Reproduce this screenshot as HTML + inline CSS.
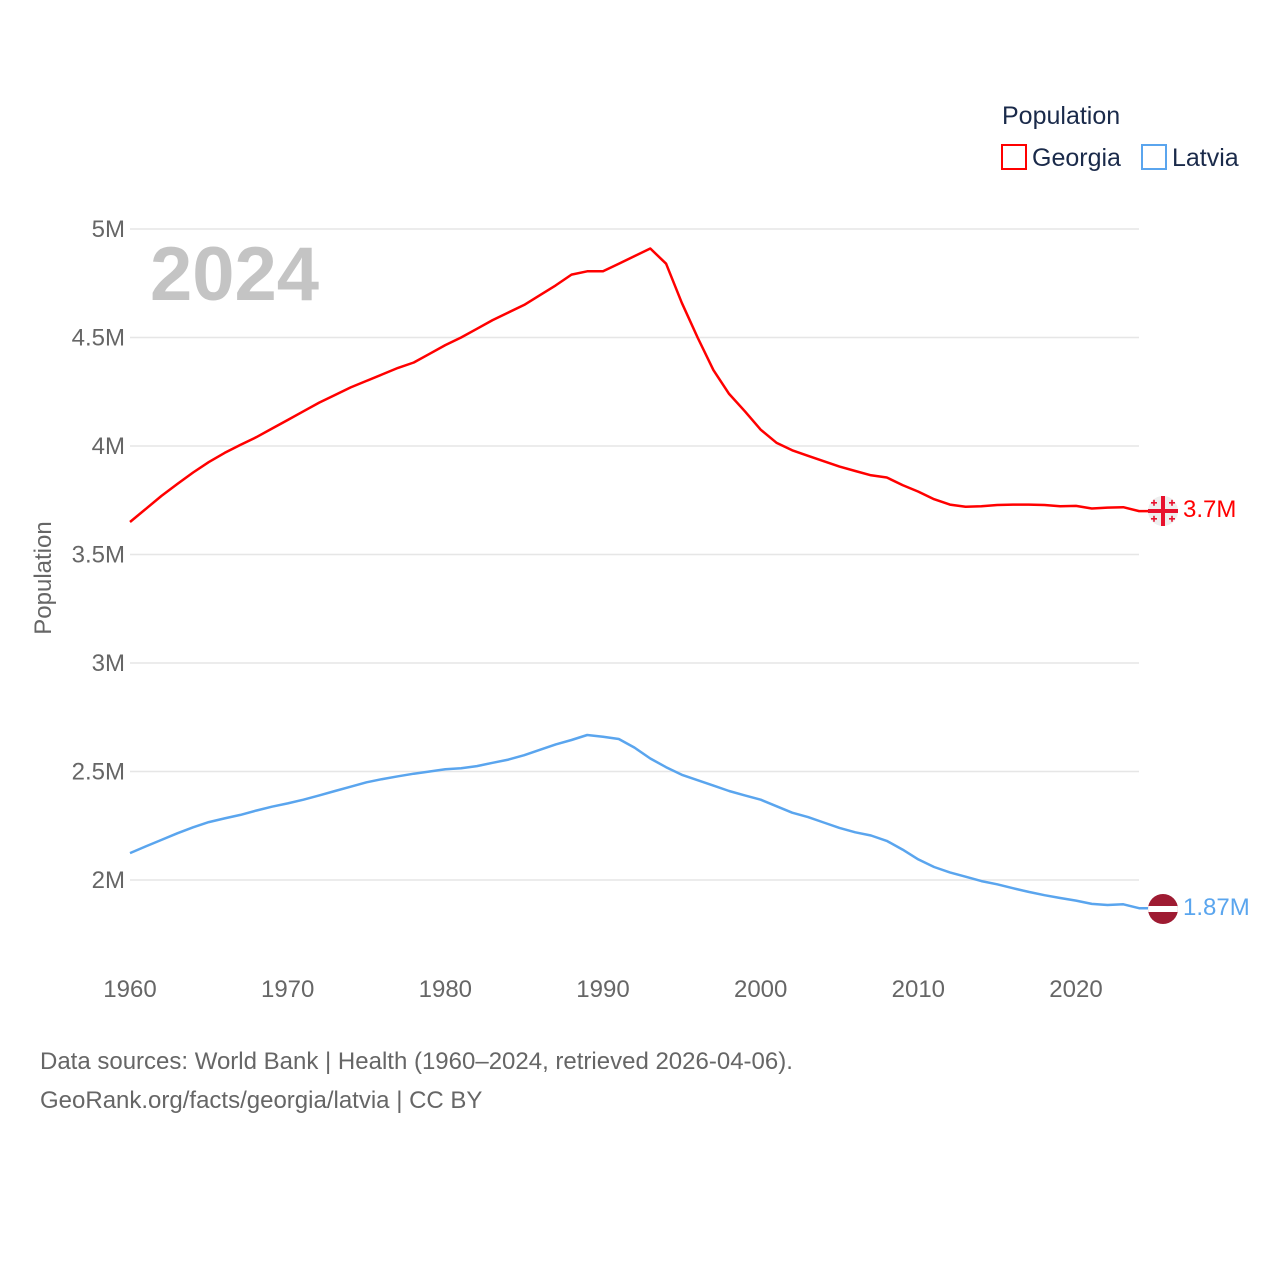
<!DOCTYPE html>
<html><head><meta charset="utf-8"><style>
body{margin:0;background:#fff;}
svg text{font-family:"Liberation Sans",sans-serif;}
</style></head><body>
<svg width="1280" height="1280" xmlns="http://www.w3.org/2000/svg">
<g id="grid"></g>
<g id="axes"></g>
<text x="150" y="300" font-size="76" font-weight="bold" fill="#c4c4c4">2024</text>
<text transform="translate(51,578) rotate(-90)" text-anchor="middle" font-size="24" fill="#666">Population</text>
<g id="series"></g>
<g>
<text x="1002" y="124" font-size="25" fill="#1a2a4a">Population</text>
<g><rect x="1002" y="145" width="24" height="24" fill="none" stroke="#ff0000" stroke-width="2"/><text x="1032" y="166" font-size="25" fill="#1a2a4a">Georgia</text></g>
<g><rect x="1142" y="145" width="24" height="24" fill="none" stroke="#5aa5ee" stroke-width="2"/><text x="1172" y="166" font-size="25" fill="#1a2a4a">Latvia</text></g>
</g>
<g>
<circle cx="1163" cy="511" r="15" fill="#eee"/>
<rect x="1161" y="496" width="4" height="30" fill="#e8112d"/><rect x="1148" y="509" width="30" height="4" fill="#e8112d"/>
<g fill="#e8112d"><rect x="1151" y="502" width="6" height="1.6"/><rect x="1153.2" y="499.8" width="1.6" height="6"/>
<rect x="1169" y="502" width="6" height="1.6"/><rect x="1171.2" y="499.8" width="1.6" height="6"/>
<rect x="1151" y="518" width="6" height="1.6"/><rect x="1153.2" y="515.8" width="1.6" height="6"/>
<rect x="1169" y="518" width="6" height="1.6"/><rect x="1171.2" y="515.8" width="1.6" height="6"/></g>
<text x="1183" y="517" font-size="24" fill="#ff0000">3.7M</text>
</g>
<g>
<clipPath id="lc"><circle cx="1163" cy="909" r="15"/></clipPath>
<g clip-path="url(#lc)"><rect x="1148" y="894" width="30" height="30" fill="#9e1b32"/><rect x="1148" y="906" width="30" height="6" fill="#fff"/></g>
<text x="1183" y="915" font-size="24" fill="#5aa5ee">1.87M</text>
</g>
<text x="40" y="1069" font-size="24" fill="#666">Data sources: World Bank | Health (1960–2024, retrieved 2026-04-06).</text>
<text x="40" y="1108" font-size="24" fill="#666">GeoRank.org/facts/georgia/latvia | CC BY</text>
</svg>
<script>
const years=[1960,1961,1962,1963,1964,1965,1966,1967,1968,1969,1970,1971,1972,1973,1974,1975,1976,1977,1978,1979,1980,1981,1982,1983,1984,1985,1986,1987,1988,1989,1990,1991,1992,1993,1994,1995,1996,1997,1998,1999,2000,2001,2002,2003,2004,2005,2006,2007,2008,2009,2010,2011,2012,2013,2014,2015,2016,2017,2018,2019,2020,2021,2022,2023,2024];
const georgia=[3.65,3.71,3.77,3.825,3.878,3.926,3.968,4.005,4.04,4.08,4.12,4.16,4.2,4.235,4.27,4.3,4.33,4.36,4.385,4.425,4.465,4.5,4.54,4.58,4.615,4.65,4.695,4.74,4.79,4.805,4.805,4.84,4.875,4.91,4.84,4.66,4.5,4.35,4.24,4.16,4.075,4.015,3.98,3.955,3.93,3.905,3.885,3.865,3.855,3.82,3.79,3.755,3.73,3.72,3.722,3.728,3.73,3.73,3.728,3.722,3.724,3.712,3.716,3.718,3.7];
const latvia=[2.124,2.155,2.185,2.215,2.243,2.267,2.284,2.3,2.32,2.338,2.353,2.37,2.39,2.41,2.43,2.45,2.465,2.478,2.49,2.5,2.51,2.515,2.525,2.54,2.555,2.575,2.6,2.625,2.645,2.668,2.66,2.65,2.61,2.56,2.52,2.485,2.46,2.435,2.41,2.39,2.37,2.34,2.31,2.29,2.265,2.24,2.22,2.205,2.18,2.14,2.095,2.06,2.035,2.015,1.995,1.98,1.962,1.945,1.93,1.917,1.905,1.89,1.885,1.888,1.87];
const yTicks=[2,2.5,3,3.5,4,4.5,5];
const yTickLabels=["2M","2.5M","3M","3.5M","4M","4.5M","5M"];
const xTicks=[1960,1970,1980,1990,2000,2010,2020];
const NS="http://www.w3.org/2000/svg";
const xS=y=>130+(y-1960)*(1076-130)/60;
const yS=v=>880-(v-2)*217;
const grid=document.getElementById('grid'),axes=document.getElementById('axes'),series=document.getElementById('series');
yTicks.forEach((t,i)=>{
 const l=document.createElementNS(NS,'line');
 l.setAttribute('x1',130);l.setAttribute('x2',1139);l.setAttribute('y1',yS(t));l.setAttribute('y2',yS(t));
 l.setAttribute('stroke','#e6e6e6');l.setAttribute('stroke-width',1.5);
 
 
 grid.appendChild(l);
 const tx=document.createElementNS(NS,'text');
 tx.setAttribute('x',125);tx.setAttribute('y',yS(t)+8);tx.setAttribute('text-anchor','end');tx.setAttribute('font-size',24);tx.setAttribute('fill','#666');
 tx.textContent=yTickLabels[i];
 
 
 axes.appendChild(tx);
});
xTicks.forEach(t=>{
 const tx=document.createElementNS(NS,'text');
 tx.setAttribute('x',xS(t));tx.setAttribute('y',997);tx.setAttribute('text-anchor','middle');tx.setAttribute('font-size',24);tx.setAttribute('fill','#666');
 tx.textContent=t;
 
 
 axes.appendChild(tx);
});
const draw=(vals,color,name)=>{
 const p=document.createElementNS(NS,'path');
 let d=vals.map((v,i)=>(i?'L':'M')+xS(years[i]).toFixed(1)+','+yS(v).toFixed(1)).join(' ');
 d+=' L1148,'+yS(vals[vals.length-1]).toFixed(1);
 p.setAttribute('d',d);p.setAttribute('fill','none');p.setAttribute('stroke',color);p.setAttribute('stroke-width',2.5);p.setAttribute('stroke-linejoin','round');
 
 
 series.appendChild(p);
};
draw(georgia,'#ff0000','georgia-line');
draw(latvia,'#5aa5ee','latvia-line');
</script>
</body></html>
